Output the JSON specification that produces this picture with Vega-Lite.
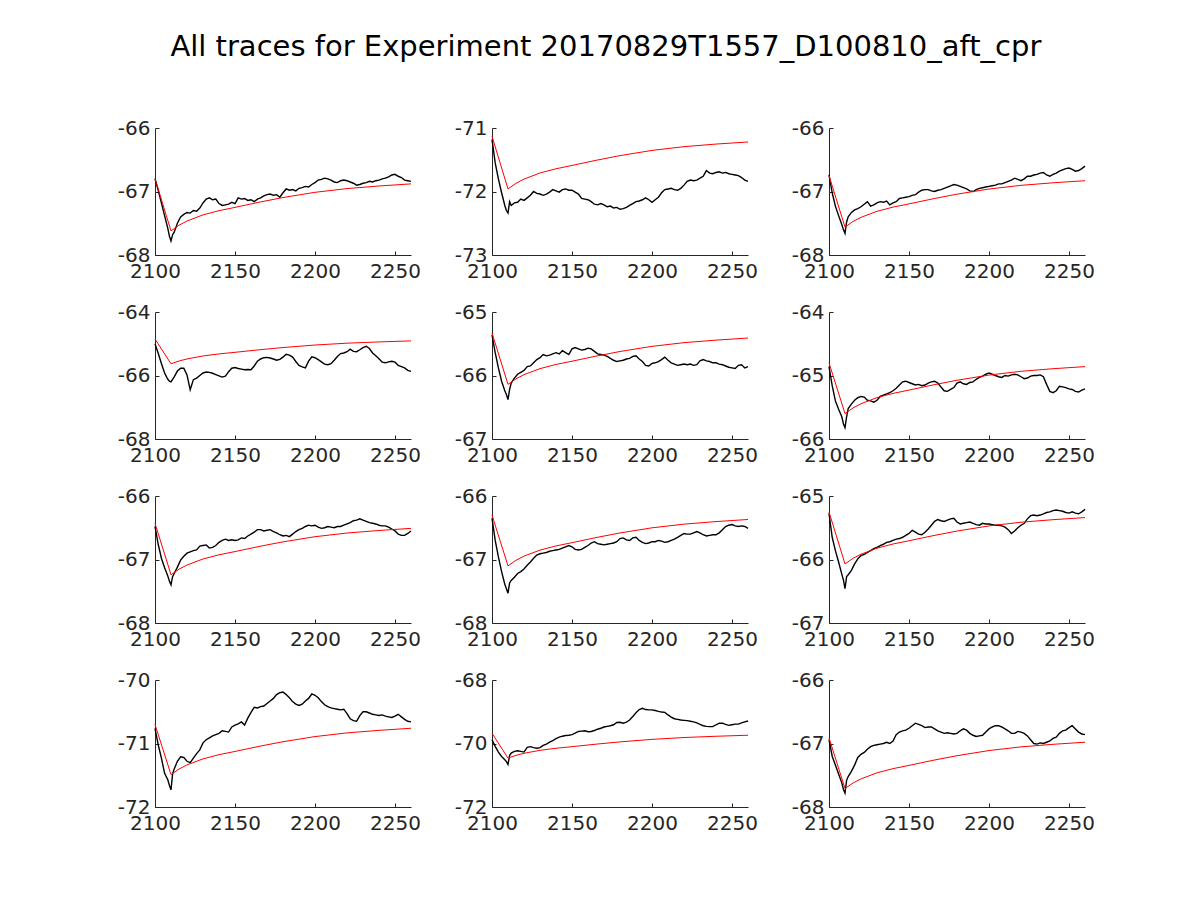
{
"$schema":"https://vega.github.io/schema/vega-lite/v6.json",
"background":"white",
"padding":{"left":117,"top":33,"right":10,"bottom":10},
"title":{"text":"All traces for Experiment 20170829T1557_D100810_aft_cpr","offset":56},
"columns":3,
"spacing":{"row":57,"column":81},
"bounds":"flush",
"datasets":{
"trace":[
{"x":2100,"p1":-66.80,"p2":-71.18,"p3":-66.74,"p4":-65.00,"p5":-65.36,"p6":-64.86,"p7":-66.48,"p8":-66.35,"p9":-65.27,"p10":-70.76,"p11":-69.88,"p12":-66.94},
{"x":2102,"p1":-66.98,"p2":-71.55,"p3":-67.02,"p4":-65.30,"p5":-65.64,"p6":-65.16,"p7":-66.76,"p8":-66.70,"p9":-65.65,"p10":-71.02,"p11":-70.09,"p12":-67.20},
{"x":2104,"p1":-67.18,"p2":-71.80,"p3":-67.23,"p4":-65.62,"p5":-65.88,"p6":-65.40,"p7":-66.98,"p8":-66.96,"p9":-65.86,"p10":-71.23,"p11":-70.27,"p12":-67.34},
{"x":2106,"p1":-67.38,"p2":-72.02,"p3":-67.38,"p4":-65.92,"p5":-66.09,"p6":-65.53,"p7":-67.13,"p8":-67.19,"p9":-66.04,"p10":-71.47,"p11":-70.41,"p12":-67.48},
{"x":2108,"p1":-67.58,"p2":-72.22,"p3":-67.52,"p4":-66.12,"p5":-66.24,"p6":-65.65,"p7":-67.26,"p8":-67.39,"p9":-66.23,"p10":-71.57,"p11":-70.51,"p12":-67.62},
{"x":2109,"p1":-67.70,"p2":-72.30,"p3":-67.60,"p4":-66.18,"p5":-66.30,"p6":-65.76,"p7":-67.34,"p8":-67.46,"p9":-66.32,"p10":-71.66,"p11":-70.57,"p12":-67.72},
{"x":2110,"p1":-67.78,"p2":-72.34,"p3":-67.66,"p4":-66.20,"p5":-66.38,"p6":-65.82,"p7":-67.40,"p8":-67.53,"p9":-66.46,"p10":-71.73,"p11":-70.66,"p12":-67.78},
{"x":2111,"p1":-67.68,"p2":-72.16,"p3":-67.48,"p4":-66.12,"p5":-66.22,"p6":-65.65,"p7":-67.27,"p8":-67.37,"p9":-66.27,"p10":-71.48,"p11":-70.38,"p12":-67.58},
{"x":2112,"p1":-67.64,"p2":-72.22,"p3":-67.40,"p4":-66.04,"p5":-66.12,"p6":-65.52,"p7":-67.22,"p8":-67.33,"p9":-66.24,"p10":-71.40,"p11":-70.30,"p12":-67.52},
{"x":2114,"p1":-67.50,"p2":-72.18,"p3":-67.33,"p4":-65.86,"p5":-66.04,"p6":-65.45,"p7":-67.12,"p8":-67.28,"p9":-66.17,"p10":-71.28,"p11":-70.25,"p12":-67.44},
{"x":2116,"p1":-67.40,"p2":-72.17,"p3":-67.29,"p4":-65.77,"p5":-65.98,"p6":-65.39,"p7":-67.01,"p8":-67.22,"p9":-66.07,"p10":-71.21,"p11":-70.23,"p12":-67.34},
{"x":2118,"p1":-67.36,"p2":-72.12,"p3":-67.27,"p4":-65.77,"p5":-65.95,"p6":-65.35,"p7":-66.95,"p8":-67.19,"p9":-65.99,"p10":-71.22,"p11":-70.25,"p12":-67.22},
{"x":2120,"p1":-67.33,"p2":-72.14,"p3":-67.24,"p4":-65.98,"p5":-65.92,"p6":-65.33,"p7":-66.90,"p8":-67.15,"p9":-65.94,"p10":-71.28,"p11":-70.27,"p12":-67.17},
{"x":2122,"p1":-67.34,"p2":-72.10,"p3":-67.20,"p4":-66.45,"p5":-65.86,"p6":-65.34,"p7":-66.88,"p8":-67.09,"p9":-65.92,"p10":-71.30,"p11":-70.12,"p12":-67.14},
{"x":2124,"p1":-67.30,"p2":-72.06,"p3":-67.16,"p4":-66.13,"p5":-65.85,"p6":-65.39,"p7":-66.86,"p8":-67.04,"p9":-65.89,"p10":-71.23,"p11":-70.10,"p12":-67.09},
{"x":2126,"p1":-67.31,"p2":-72.00,"p3":-67.23,"p4":-66.08,"p5":-65.80,"p6":-65.40,"p7":-66.85,"p8":-66.98,"p9":-65.86,"p10":-71.16,"p11":-70.13,"p12":-67.05},
{"x":2128,"p1":-67.26,"p2":-72.03,"p3":-67.21,"p4":-66.00,"p5":-65.75,"p6":-65.42,"p7":-66.79,"p8":-66.93,"p9":-65.83,"p10":-71.10,"p11":-70.15,"p12":-67.03},
{"x":2130,"p1":-67.18,"p2":-72.04,"p3":-67.18,"p4":-65.92,"p5":-65.72,"p6":-65.39,"p7":-66.78,"p8":-66.91,"p9":-65.81,"p10":-70.99,"p11":-70.13,"p12":-67.02},
{"x":2132,"p1":-67.12,"p2":-72.06,"p3":-67.16,"p4":-65.89,"p5":-65.67,"p6":-65.33,"p7":-66.77,"p8":-66.90,"p9":-65.78,"p10":-70.94,"p11":-70.06,"p12":-67.01},
{"x":2134,"p1":-67.10,"p2":-72.04,"p3":-67.17,"p4":-65.90,"p5":-65.69,"p6":-65.31,"p7":-66.82,"p8":-66.89,"p9":-65.76,"p10":-70.91,"p11":-70.02,"p12":-67.00},
{"x":2136,"p1":-67.13,"p2":-72.01,"p3":-67.15,"p4":-65.93,"p5":-65.68,"p6":-65.29,"p7":-66.81,"p8":-66.87,"p9":-65.73,"p10":-70.88,"p11":-69.96,"p12":-66.98},
{"x":2138,"p1":-67.12,"p2":-71.97,"p3":-67.21,"p4":-65.97,"p5":-65.66,"p6":-65.27,"p7":-66.78,"p8":-66.86,"p9":-65.72,"p10":-70.86,"p11":-69.91,"p12":-67.00},
{"x":2140,"p1":-67.19,"p2":-71.99,"p3":-67.18,"p4":-66.01,"p5":-65.64,"p6":-65.24,"p7":-66.73,"p8":-66.85,"p9":-65.70,"p10":-70.84,"p11":-69.85,"p12":-66.96},
{"x":2142,"p1":-67.22,"p2":-72.01,"p3":-67.16,"p4":-66.05,"p5":-65.66,"p6":-65.20,"p7":-66.70,"p8":-66.84,"p9":-65.68,"p10":-70.80,"p11":-69.80,"p12":-66.86},
{"x":2144,"p1":-67.21,"p2":-71.97,"p3":-67.11,"p4":-66.02,"p5":-65.61,"p6":-65.15,"p7":-66.68,"p8":-66.82,"p9":-65.67,"p10":-70.81,"p11":-69.77,"p12":-66.82},
{"x":2146,"p1":-67.20,"p2":-71.96,"p3":-67.10,"p4":-65.88,"p5":-65.64,"p6":-65.10,"p7":-66.70,"p8":-66.80,"p9":-65.65,"p10":-70.82,"p11":-69.75,"p12":-66.80},
{"x":2148,"p1":-67.17,"p2":-71.98,"p3":-67.09,"p4":-65.77,"p5":-65.67,"p6":-65.09,"p7":-66.69,"p8":-66.78,"p9":-65.62,"p10":-70.74,"p11":-69.74,"p12":-66.79},
{"x":2150,"p1":-67.19,"p2":-71.98,"p3":-67.08,"p4":-65.75,"p5":-65.58,"p6":-65.11,"p7":-66.70,"p8":-66.80,"p9":-65.59,"p10":-70.71,"p11":-69.72,"p12":-66.76},
{"x":2152,"p1":-67.10,"p2":-72.01,"p3":-67.06,"p4":-65.78,"p5":-65.56,"p6":-65.13,"p7":-66.69,"p8":-66.84,"p9":-65.54,"p10":-70.69,"p11":-69.67,"p12":-66.72},
{"x":2154,"p1":-67.12,"p2":-72.04,"p3":-67.05,"p4":-65.80,"p5":-65.58,"p6":-65.15,"p7":-66.66,"p8":-66.85,"p9":-65.57,"p10":-70.66,"p11":-69.62,"p12":-66.68},
{"x":2156,"p1":-67.11,"p2":-72.11,"p3":-67.01,"p4":-65.82,"p5":-65.60,"p6":-65.14,"p7":-66.67,"p8":-66.84,"p9":-65.60,"p10":-70.71,"p11":-69.61,"p12":-66.70},
{"x":2158,"p1":-67.14,"p2":-72.12,"p3":-66.98,"p4":-65.81,"p5":-65.59,"p6":-65.16,"p7":-66.63,"p8":-66.81,"p9":-65.61,"p10":-70.60,"p11":-69.60,"p12":-66.72},
{"x":2160,"p1":-67.13,"p2":-72.13,"p3":-66.97,"p4":-65.82,"p5":-65.57,"p6":-65.15,"p7":-66.60,"p8":-66.78,"p9":-65.57,"p10":-70.51,"p11":-69.63,"p12":-66.75},
{"x":2162,"p1":-67.16,"p2":-72.16,"p3":-66.97,"p4":-65.70,"p5":-65.58,"p6":-65.12,"p7":-66.57,"p8":-66.74,"p9":-65.52,"p10":-70.43,"p11":-69.62,"p12":-66.74},
{"x":2164,"p1":-67.12,"p2":-72.20,"p3":-66.99,"p4":-65.55,"p5":-65.62,"p6":-65.10,"p7":-66.53,"p8":-66.72,"p9":-65.46,"p10":-70.44,"p11":-69.59,"p12":-66.74},
{"x":2166,"p1":-67.10,"p2":-72.21,"p3":-67.00,"p4":-65.48,"p5":-65.66,"p6":-65.09,"p7":-66.53,"p8":-66.75,"p9":-65.40,"p10":-70.42,"p11":-69.55,"p12":-66.77},
{"x":2168,"p1":-67.07,"p2":-72.19,"p3":-66.98,"p4":-65.44,"p5":-65.67,"p6":-65.12,"p7":-66.55,"p8":-66.76,"p9":-65.37,"p10":-70.41,"p11":-69.52,"p12":-66.80},
{"x":2170,"p1":-67.05,"p2":-72.21,"p3":-66.97,"p4":-65.43,"p5":-65.68,"p6":-65.18,"p7":-66.54,"p8":-66.77,"p9":-65.39,"p10":-70.37,"p11":-69.48,"p12":-66.82},
{"x":2172,"p1":-67.04,"p2":-72.24,"p3":-66.95,"p4":-65.45,"p5":-65.70,"p6":-65.24,"p7":-66.53,"p8":-66.76,"p9":-65.40,"p10":-70.33,"p11":-69.46,"p12":-66.84},
{"x":2174,"p1":-67.06,"p2":-72.23,"p3":-66.93,"p4":-65.48,"p5":-65.73,"p6":-65.25,"p7":-66.56,"p8":-66.75,"p9":-65.38,"p10":-70.29,"p11":-69.44,"p12":-66.83},
{"x":2176,"p1":-67.05,"p2":-72.26,"p3":-66.91,"p4":-65.52,"p5":-65.76,"p6":-65.22,"p7":-66.58,"p8":-66.74,"p9":-65.36,"p10":-70.23,"p11":-69.41,"p12":-66.84},
{"x":2178,"p1":-67.09,"p2":-72.25,"p3":-66.89,"p4":-65.49,"p5":-65.78,"p6":-65.19,"p7":-66.61,"p8":-66.72,"p9":-65.35,"p10":-70.20,"p11":-69.34,"p12":-66.85},
{"x":2180,"p1":-67.02,"p2":-72.28,"p3":-66.90,"p4":-65.42,"p5":-65.77,"p6":-65.12,"p7":-66.63,"p8":-66.67,"p9":-65.41,"p10":-70.19,"p11":-69.33,"p12":-66.84},
{"x":2182,"p1":-66.96,"p2":-72.27,"p3":-66.92,"p4":-65.33,"p5":-65.76,"p6":-65.10,"p7":-66.62,"p8":-66.66,"p9":-65.44,"p10":-70.23,"p11":-69.36,"p12":-66.80},
{"x":2184,"p1":-66.98,"p2":-72.25,"p3":-66.94,"p4":-65.36,"p5":-65.74,"p6":-65.13,"p7":-66.64,"p8":-66.69,"p9":-65.43,"p10":-70.28,"p11":-69.33,"p12":-66.77},
{"x":2186,"p1":-66.97,"p2":-72.22,"p3":-66.96,"p4":-65.42,"p5":-65.73,"p6":-65.14,"p7":-66.60,"p8":-66.70,"p9":-65.42,"p10":-70.34,"p11":-69.26,"p12":-66.79},
{"x":2188,"p1":-66.99,"p2":-72.19,"p3":-66.99,"p4":-65.56,"p5":-65.70,"p6":-65.11,"p7":-66.56,"p8":-66.66,"p9":-65.41,"p10":-70.38,"p11":-69.15,"p12":-66.84},
{"x":2190,"p1":-66.95,"p2":-72.16,"p3":-67.00,"p4":-65.68,"p5":-65.69,"p6":-65.10,"p7":-66.53,"p8":-66.65,"p9":-65.43,"p10":-70.40,"p11":-69.03,"p12":-66.87},
{"x":2192,"p1":-66.94,"p2":-72.15,"p3":-66.97,"p4":-65.73,"p5":-65.74,"p6":-65.06,"p7":-66.51,"p8":-66.70,"p9":-65.45,"p10":-70.38,"p11":-68.93,"p12":-66.89},
{"x":2194,"p1":-66.92,"p2":-72.13,"p3":-66.95,"p4":-65.76,"p5":-65.78,"p6":-65.03,"p7":-66.48,"p8":-66.73,"p9":-65.46,"p10":-70.33,"p11":-68.89,"p12":-66.88},
{"x":2196,"p1":-66.93,"p2":-72.10,"p3":-66.94,"p4":-65.55,"p5":-65.84,"p6":-65.01,"p7":-66.46,"p8":-66.75,"p9":-65.43,"p10":-70.29,"p11":-68.93,"p12":-66.87},
{"x":2198,"p1":-66.89,"p2":-72.13,"p3":-66.93,"p4":-65.41,"p5":-65.85,"p6":-64.98,"p7":-66.47,"p8":-66.74,"p9":-65.44,"p10":-70.22,"p11":-68.94,"p12":-66.82},
{"x":2200,"p1":-66.86,"p2":-72.17,"p3":-66.92,"p4":-65.44,"p5":-65.81,"p6":-64.96,"p7":-66.46,"p8":-66.72,"p9":-65.44,"p10":-70.24,"p11":-68.94,"p12":-66.77},
{"x":2202,"p1":-66.82,"p2":-72.13,"p3":-66.91,"p4":-65.50,"p5":-65.80,"p6":-64.98,"p7":-66.49,"p8":-66.72,"p9":-65.45,"p10":-70.28,"p11":-68.96,"p12":-66.74},
{"x":2204,"p1":-66.81,"p2":-72.09,"p3":-66.90,"p4":-65.57,"p5":-65.78,"p6":-65.00,"p7":-66.51,"p8":-66.70,"p9":-65.46,"p10":-70.34,"p11":-68.99,"p12":-66.72},
{"x":2206,"p1":-66.79,"p2":-72.02,"p3":-66.88,"p4":-65.64,"p5":-65.75,"p6":-65.02,"p7":-66.50,"p8":-66.71,"p9":-65.46,"p10":-70.39,"p11":-69.01,"p12":-66.72},
{"x":2208,"p1":-66.80,"p2":-71.97,"p3":-66.88,"p4":-65.66,"p5":-65.71,"p6":-65.03,"p7":-66.48,"p8":-66.73,"p9":-65.47,"p10":-70.42,"p11":-69.02,"p12":-66.74},
{"x":2210,"p1":-66.82,"p2":-71.96,"p3":-66.86,"p4":-65.63,"p5":-65.76,"p6":-65.00,"p7":-66.49,"p8":-66.72,"p9":-65.49,"p10":-70.44,"p11":-69.10,"p12":-66.77},
{"x":2212,"p1":-66.85,"p2":-71.95,"p3":-66.84,"p4":-65.52,"p5":-65.80,"p6":-65.01,"p7":-66.50,"p8":-66.70,"p9":-65.53,"p10":-70.45,"p11":-69.17,"p12":-66.80},
{"x":2214,"p1":-66.86,"p2":-71.97,"p3":-66.82,"p4":-65.40,"p5":-65.82,"p6":-64.99,"p7":-66.48,"p8":-66.68,"p9":-65.59,"p10":-70.46,"p11":-69.22,"p12":-66.84},
{"x":2216,"p1":-66.83,"p2":-71.98,"p3":-66.79,"p4":-65.31,"p5":-65.84,"p6":-64.98,"p7":-66.48,"p8":-66.65,"p9":-65.55,"p10":-70.47,"p11":-69.24,"p12":-66.84},
{"x":2218,"p1":-66.82,"p2":-71.95,"p3":-66.81,"p4":-65.29,"p5":-65.83,"p6":-64.99,"p7":-66.46,"p8":-66.62,"p9":-65.50,"p10":-70.46,"p11":-69.26,"p12":-66.81},
{"x":2220,"p1":-66.83,"p2":-71.90,"p3":-66.83,"p4":-65.25,"p5":-65.82,"p6":-65.02,"p7":-66.44,"p8":-66.59,"p9":-65.46,"p10":-70.53,"p11":-69.27,"p12":-66.82},
{"x":2222,"p1":-66.85,"p2":-71.84,"p3":-66.80,"p4":-65.17,"p5":-65.83,"p6":-65.05,"p7":-66.42,"p8":-66.60,"p9":-65.43,"p10":-70.61,"p11":-69.28,"p12":-66.84},
{"x":2224,"p1":-66.87,"p2":-71.82,"p3":-66.76,"p4":-65.24,"p5":-65.82,"p6":-65.04,"p7":-66.39,"p8":-66.60,"p9":-65.36,"p10":-70.64,"p11":-69.30,"p12":-66.88},
{"x":2226,"p1":-66.90,"p2":-71.83,"p3":-66.76,"p4":-65.25,"p5":-65.84,"p6":-65.01,"p7":-66.38,"p8":-66.58,"p9":-65.31,"p10":-70.65,"p11":-69.32,"p12":-66.94},
{"x":2228,"p1":-66.89,"p2":-71.82,"p3":-66.74,"p4":-65.19,"p5":-65.83,"p6":-65.00,"p7":-66.36,"p8":-66.56,"p9":-65.30,"p10":-70.56,"p11":-69.35,"p12":-67.00},
{"x":2230,"p1":-66.87,"p2":-71.79,"p3":-66.73,"p4":-65.12,"p5":-65.77,"p6":-65.00,"p7":-66.38,"p8":-66.58,"p9":-65.31,"p10":-70.50,"p11":-69.40,"p12":-67.01},
{"x":2232,"p1":-66.86,"p2":-71.76,"p3":-66.71,"p4":-65.08,"p5":-65.75,"p6":-64.99,"p7":-66.40,"p8":-66.61,"p9":-65.30,"p10":-70.50,"p11":-69.44,"p12":-66.99},
{"x":2234,"p1":-66.84,"p2":-71.67,"p3":-66.70,"p4":-65.15,"p5":-65.77,"p6":-65.02,"p7":-66.42,"p8":-66.63,"p9":-65.28,"p10":-70.52,"p11":-69.46,"p12":-67.00},
{"x":2236,"p1":-66.85,"p2":-71.71,"p3":-66.74,"p4":-65.29,"p5":-65.78,"p6":-65.14,"p7":-66.43,"p8":-66.62,"p9":-65.26,"p10":-70.54,"p11":-69.47,"p12":-66.98},
{"x":2238,"p1":-66.83,"p2":-71.72,"p3":-66.76,"p4":-65.38,"p5":-65.80,"p6":-65.25,"p7":-66.44,"p8":-66.61,"p9":-65.25,"p10":-70.55,"p11":-69.47,"p12":-66.96},
{"x":2240,"p1":-66.82,"p2":-71.70,"p3":-66.73,"p4":-65.47,"p5":-65.80,"p6":-65.27,"p7":-66.46,"p8":-66.61,"p9":-65.23,"p10":-70.56,"p11":-69.41,"p12":-66.92},
{"x":2242,"p1":-66.80,"p2":-71.69,"p3":-66.71,"p4":-65.58,"p5":-65.82,"p6":-65.24,"p7":-66.47,"p8":-66.58,"p9":-65.22,"p10":-70.55,"p11":-69.36,"p12":-66.90},
{"x":2244,"p1":-66.79,"p2":-71.71,"p3":-66.68,"p4":-65.60,"p5":-65.83,"p6":-65.17,"p7":-66.47,"p8":-66.53,"p9":-65.23,"p10":-70.57,"p11":-69.36,"p12":-66.84},
{"x":2246,"p1":-66.77,"p2":-71.70,"p3":-66.66,"p4":-65.57,"p5":-65.85,"p6":-65.18,"p7":-66.49,"p8":-66.48,"p9":-65.24,"p10":-70.58,"p11":-69.40,"p12":-66.80},
{"x":2248,"p1":-66.74,"p2":-71.72,"p3":-66.64,"p4":-65.55,"p5":-65.87,"p6":-65.19,"p7":-66.52,"p8":-66.46,"p9":-65.26,"p10":-70.59,"p11":-69.43,"p12":-66.79},
{"x":2250,"p1":-66.73,"p2":-71.73,"p3":-66.63,"p4":-65.58,"p5":-65.88,"p6":-65.21,"p7":-66.55,"p8":-66.45,"p9":-65.27,"p10":-70.57,"p11":-69.41,"p12":-66.75},
{"x":2252,"p1":-66.76,"p2":-71.74,"p3":-66.65,"p4":-65.68,"p5":-65.89,"p6":-65.22,"p7":-66.60,"p8":-66.47,"p9":-65.25,"p10":-70.54,"p11":-69.39,"p12":-66.72},
{"x":2254,"p1":-66.78,"p2":-71.75,"p3":-66.68,"p4":-65.72,"p5":-65.84,"p6":-65.25,"p7":-66.62,"p8":-66.48,"p9":-65.27,"p10":-70.58,"p11":-69.39,"p12":-66.77},
{"x":2256,"p1":-66.82,"p2":-71.78,"p3":-66.67,"p4":-65.76,"p5":-65.83,"p6":-65.26,"p7":-66.62,"p8":-66.47,"p9":-65.28,"p10":-70.62,"p11":-69.35,"p12":-66.82},
{"x":2258,"p1":-66.83,"p2":-71.82,"p3":-66.64,"p4":-65.84,"p5":-65.88,"p6":-65.23,"p7":-66.59,"p8":-66.48,"p9":-65.25,"p10":-70.65,"p11":-69.32,"p12":-66.85},
{"x":2260,"p1":-66.84,"p2":-71.84,"p3":-66.60,"p4":-65.87,"p5":-65.86,"p6":-65.21,"p7":-66.55,"p8":-66.51,"p9":-65.21,"p10":-70.66,"p11":-69.29,"p12":-66.86}
],
"fit":[
{"x":2100,"f1":-66.80,"f2":-71.13,"f3":-66.75,"f4":-64.85,"f5":-65.33,"f6":-64.80,"f7":-66.43,"f8":-66.30,"f9":-65.25,"f10":-70.70,"f11":-69.68,"f12":-66.91},
{"x":2110,"f1":-67.62,"f2":-71.96,"f3":-67.56,"f4":-65.63,"f5":-66.14,"f6":-65.60,"f7":-67.24,"f8":-67.10,"f9":-66.07,"f10":-71.49,"f11":-70.46,"f12":-67.71},
{"x":2115,"f1":-67.531,"f2":-71.871,"f3":-67.472,"f4":-65.544,"f5":-66.052,"f6":-65.511,"f7":-67.152,"f8":-67.012,"f9":-65.982,"f10":-71.402,"f11":-70.374,"f12":-67.622},
{"x":2120,"f1":-67.465,"f2":-71.805,"f3":-67.407,"f4":-65.479,"f5":-65.987,"f6":-65.445,"f7":-67.087,"f8":-66.947,"f9":-65.917,"f10":-71.337,"f11":-70.309,"f12":-67.557},
{"x":2130,"f1":-67.368,"f2":-71.708,"f3":-67.312,"f4":-65.385,"f5":-65.892,"f6":-65.348,"f7":-66.992,"f8":-66.852,"f9":-65.822,"f10":-71.242,"f11":-70.215,"f12":-67.462},
{"x":2140,"f1":-67.302,"f2":-71.642,"f3":-67.246,"f4":-65.320,"f5":-65.826,"f6":-65.282,"f7":-66.926,"f8":-66.786,"f9":-65.756,"f10":-71.176,"f11":-70.150,"f12":-67.396},
{"x":2150,"f1":-67.250,"f2":-71.590,"f3":-67.195,"f4":-65.270,"f5":-65.775,"f6":-65.230,"f7":-66.875,"f8":-66.735,"f9":-65.705,"f10":-71.125,"f11":-70.100,"f12":-67.345},
{"x":2165,"f1":-67.169,"f2":-71.509,"f3":-67.115,"f4":-65.191,"f5":-65.695,"f6":-65.149,"f7":-66.795,"f8":-66.655,"f9":-65.625,"f10":-71.045,"f11":-70.021,"f12":-67.265},
{"x":2180,"f1":-67.095,"f2":-71.435,"f3":-67.042,"f4":-65.119,"f5":-65.622,"f6":-65.075,"f7":-66.722,"f8":-66.582,"f9":-65.552,"f10":-70.972,"f11":-69.949,"f12":-67.192},
{"x":2200,"f1":-67.013,"f2":-71.353,"f3":-66.961,"f4":-65.040,"f5":-65.541,"f6":-64.993,"f7":-66.641,"f8":-66.501,"f9":-65.471,"f10":-70.891,"f11":-69.870,"f12":-67.111},
{"x":2220,"f1":-66.954,"f2":-71.294,"f3":-66.903,"f4":-64.982,"f5":-65.483,"f6":-64.934,"f7":-66.583,"f8":-66.443,"f9":-65.413,"f10":-70.833,"f11":-69.812,"f12":-67.053},
{"x":2240,"f1":-66.913,"f2":-71.253,"f3":-66.863,"f4":-64.942,"f5":-65.443,"f6":-64.893,"f7":-66.543,"f8":-66.403,"f9":-65.373,"f10":-70.793,"f11":-69.772,"f12":-67.013},
{"x":2260,"f1":-66.880,"f2":-71.220,"f3":-66.830,"f4":-64.910,"f5":-65.410,"f6":-64.860,"f7":-66.510,"f8":-66.370,"f9":-65.340,"f10":-70.760,"f11":-69.740,"f12":-66.980}
]
},
"concat":[
{"width":256,"height":127,"encoding":{"x":{"field":"x","type":"quantitative","title":null,"scale":{"domain":[2100,2260]},"axis":{"values":[2100,2150,2200,2250]}}},"layer":[
{"data":{"name":"trace"},"mark":{"type":"line","color":"#000000","strokeWidth":1.4},"encoding":{"y":{"field":"p1","type":"quantitative","title":null,"scale":{"domain":[-68,-66]},"axis":{"values":[-68,-67,-66]}}}},
{"data":{"name":"fit"},"mark":{"type":"line","color":"#ff0000","strokeWidth":1},"encoding":{"y":{"field":"f1","type":"quantitative","title":null}}}]},
{"width":256,"height":127,"encoding":{"x":{"field":"x","type":"quantitative","title":null,"scale":{"domain":[2100,2260]},"axis":{"values":[2100,2150,2200,2250]}}},"layer":[
{"data":{"name":"trace"},"mark":{"type":"line","color":"#000000","strokeWidth":1.4},"encoding":{"y":{"field":"p2","type":"quantitative","title":null,"scale":{"domain":[-73,-71]},"axis":{"values":[-73,-72,-71]}}}},
{"data":{"name":"fit"},"mark":{"type":"line","color":"#ff0000","strokeWidth":1},"encoding":{"y":{"field":"f2","type":"quantitative","title":null}}}]},
{"width":256,"height":127,"encoding":{"x":{"field":"x","type":"quantitative","title":null,"scale":{"domain":[2100,2260]},"axis":{"values":[2100,2150,2200,2250]}}},"layer":[
{"data":{"name":"trace"},"mark":{"type":"line","color":"#000000","strokeWidth":1.4},"encoding":{"y":{"field":"p3","type":"quantitative","title":null,"scale":{"domain":[-68,-66]},"axis":{"values":[-68,-67,-66]}}}},
{"data":{"name":"fit"},"mark":{"type":"line","color":"#ff0000","strokeWidth":1},"encoding":{"y":{"field":"f3","type":"quantitative","title":null}}}]},
{"width":256,"height":127,"encoding":{"x":{"field":"x","type":"quantitative","title":null,"scale":{"domain":[2100,2260]},"axis":{"values":[2100,2150,2200,2250]}}},"layer":[
{"data":{"name":"trace"},"mark":{"type":"line","color":"#000000","strokeWidth":1.4},"encoding":{"y":{"field":"p4","type":"quantitative","title":null,"scale":{"domain":[-68,-64]},"axis":{"values":[-68,-66,-64]}}}},
{"data":{"name":"fit"},"mark":{"type":"line","color":"#ff0000","strokeWidth":1},"encoding":{"y":{"field":"f4","type":"quantitative","title":null}}}]},
{"width":256,"height":127,"encoding":{"x":{"field":"x","type":"quantitative","title":null,"scale":{"domain":[2100,2260]},"axis":{"values":[2100,2150,2200,2250]}}},"layer":[
{"data":{"name":"trace"},"mark":{"type":"line","color":"#000000","strokeWidth":1.4},"encoding":{"y":{"field":"p5","type":"quantitative","title":null,"scale":{"domain":[-67,-65]},"axis":{"values":[-67,-66,-65]}}}},
{"data":{"name":"fit"},"mark":{"type":"line","color":"#ff0000","strokeWidth":1},"encoding":{"y":{"field":"f5","type":"quantitative","title":null}}}]},
{"width":256,"height":127,"encoding":{"x":{"field":"x","type":"quantitative","title":null,"scale":{"domain":[2100,2260]},"axis":{"values":[2100,2150,2200,2250]}}},"layer":[
{"data":{"name":"trace"},"mark":{"type":"line","color":"#000000","strokeWidth":1.4},"encoding":{"y":{"field":"p6","type":"quantitative","title":null,"scale":{"domain":[-66,-64]},"axis":{"values":[-66,-65,-64]}}}},
{"data":{"name":"fit"},"mark":{"type":"line","color":"#ff0000","strokeWidth":1},"encoding":{"y":{"field":"f6","type":"quantitative","title":null}}}]},
{"width":256,"height":127,"encoding":{"x":{"field":"x","type":"quantitative","title":null,"scale":{"domain":[2100,2260]},"axis":{"values":[2100,2150,2200,2250]}}},"layer":[
{"data":{"name":"trace"},"mark":{"type":"line","color":"#000000","strokeWidth":1.4},"encoding":{"y":{"field":"p7","type":"quantitative","title":null,"scale":{"domain":[-68,-66]},"axis":{"values":[-68,-67,-66]}}}},
{"data":{"name":"fit"},"mark":{"type":"line","color":"#ff0000","strokeWidth":1},"encoding":{"y":{"field":"f7","type":"quantitative","title":null}}}]},
{"width":256,"height":127,"encoding":{"x":{"field":"x","type":"quantitative","title":null,"scale":{"domain":[2100,2260]},"axis":{"values":[2100,2150,2200,2250]}}},"layer":[
{"data":{"name":"trace"},"mark":{"type":"line","color":"#000000","strokeWidth":1.4},"encoding":{"y":{"field":"p8","type":"quantitative","title":null,"scale":{"domain":[-68,-66]},"axis":{"values":[-68,-67,-66]}}}},
{"data":{"name":"fit"},"mark":{"type":"line","color":"#ff0000","strokeWidth":1},"encoding":{"y":{"field":"f8","type":"quantitative","title":null}}}]},
{"width":256,"height":127,"encoding":{"x":{"field":"x","type":"quantitative","title":null,"scale":{"domain":[2100,2260]},"axis":{"values":[2100,2150,2200,2250]}}},"layer":[
{"data":{"name":"trace"},"mark":{"type":"line","color":"#000000","strokeWidth":1.4},"encoding":{"y":{"field":"p9","type":"quantitative","title":null,"scale":{"domain":[-67,-65]},"axis":{"values":[-67,-66,-65]}}}},
{"data":{"name":"fit"},"mark":{"type":"line","color":"#ff0000","strokeWidth":1},"encoding":{"y":{"field":"f9","type":"quantitative","title":null}}}]},
{"width":256,"height":127,"encoding":{"x":{"field":"x","type":"quantitative","title":null,"scale":{"domain":[2100,2260]},"axis":{"values":[2100,2150,2200,2250]}}},"layer":[
{"data":{"name":"trace"},"mark":{"type":"line","color":"#000000","strokeWidth":1.4},"encoding":{"y":{"field":"p10","type":"quantitative","title":null,"scale":{"domain":[-72,-70]},"axis":{"values":[-72,-71,-70]}}}},
{"data":{"name":"fit"},"mark":{"type":"line","color":"#ff0000","strokeWidth":1},"encoding":{"y":{"field":"f10","type":"quantitative","title":null}}}]},
{"width":256,"height":127,"encoding":{"x":{"field":"x","type":"quantitative","title":null,"scale":{"domain":[2100,2260]},"axis":{"values":[2100,2150,2200,2250]}}},"layer":[
{"data":{"name":"trace"},"mark":{"type":"line","color":"#000000","strokeWidth":1.4},"encoding":{"y":{"field":"p11","type":"quantitative","title":null,"scale":{"domain":[-72,-68]},"axis":{"values":[-72,-70,-68]}}}},
{"data":{"name":"fit"},"mark":{"type":"line","color":"#ff0000","strokeWidth":1},"encoding":{"y":{"field":"f11","type":"quantitative","title":null}}}]},
{"width":256,"height":127,"encoding":{"x":{"field":"x","type":"quantitative","title":null,"scale":{"domain":[2100,2260]},"axis":{"values":[2100,2150,2200,2250]}}},"layer":[
{"data":{"name":"trace"},"mark":{"type":"line","color":"#000000","strokeWidth":1.4},"encoding":{"y":{"field":"p12","type":"quantitative","title":null,"scale":{"domain":[-68,-66]},"axis":{"values":[-68,-67,-66]}}}},
{"data":{"name":"fit"},"mark":{"type":"line","color":"#ff0000","strokeWidth":1},"encoding":{"y":{"field":"f12","type":"quantitative","title":null}}}]}
],
"config":{
"font":"DejaVu Sans",
"view":{"stroke":null},
"axis":{"domainColor":"#262626","tickColor":"#262626","labelColor":"#262626","labelFontSize":20,"labelFont":"DejaVu Sans","grid":false,"tickSize":-4,"domainWidth":1,"tickWidth":1,"labelFlush":false,"labelOverlap":false,"labelExpr":"'' + datum.value"},
"axisX":{"labelPadding":10.5},
"axisY":{"labelPadding":9},
"title":{"fontSize":29,"font":"DejaVu Sans","fontWeight":"normal","color":"#000000","anchor":"middle"}
}
}
